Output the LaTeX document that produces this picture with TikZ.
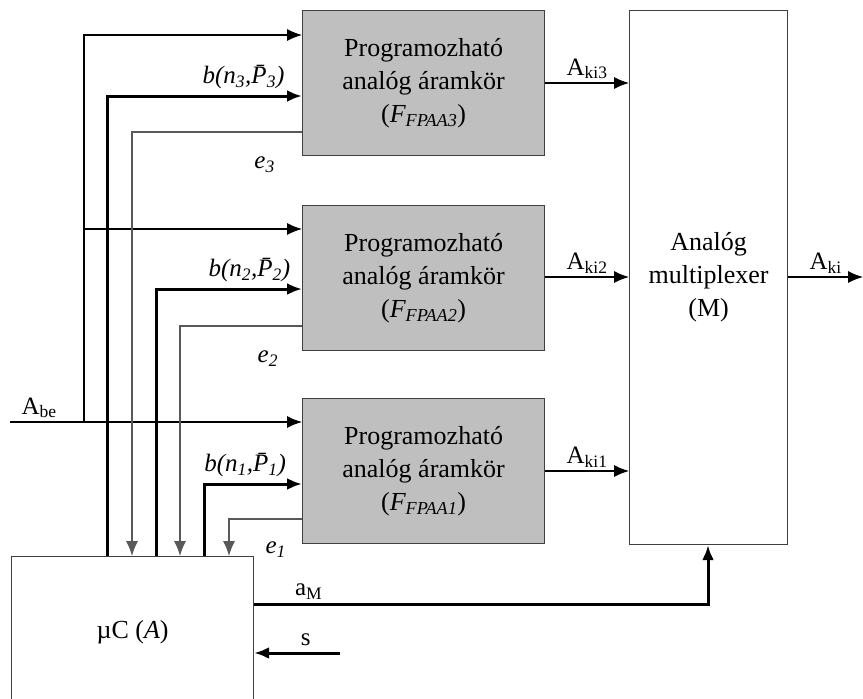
\documentclass[tikz,border=0pt]{standalone}
\usepackage{fontspec}
\setmainfont{Liberation Serif}
\usetikzlibrary{positioning, arrows.meta}

\begin{document}
\begin{tikzpicture}[
x=1pt, y=-1pt,
every node/.style={font=\fontsize{26}{33}\selectfont},
fpaabox/.style={rectangle,
  draw=black!75, line width=1.2pt,
  fill=gray!50,
  minimum width=242pt, minimum height=145pt,
  align=center, anchor=north west, inner sep=0pt
},
plainbox/.style={rectangle,
  draw=black!75, line width=1.2pt,
  fill=white,
  align=center, anchor=north west
},
lab/.style={font=\fontsize{25}{30}\selectfont, text=black},
sig/.style={line width=1.1pt, black},
fb/.style={line width=1.1pt, black!65},
bus/.style={line width=3pt, black},
>={Latex[length=15pt,width=12pt]}
]
\useasboundingbox (0,0) rectangle (863,699);
\clip (0,0) rectangle (863,699);

\node[fpaabox] (f3) at (302,10)
    {Programozható\\analóg áramkör\\(\textit{F\textsubscript{FPAA3}})};
\node[fpaabox] (f2) at (302,205)
    {Programozható\\analóg áramkör\\(\textit{F\textsubscript{FPAA2}})};
\node[fpaabox] (f1) at (302,398)
    {Programozható\\analóg áramkör\\(\textit{F\textsubscript{FPAA1}})};
\node[plainbox, minimum width=158pt, minimum height=534pt] (mux) at (629,10)
    {Analóg\\multiplexer\\(M)};
\node[plainbox, minimum width=242pt, minimum height=152pt] (uc) at (11,556)
    {µC (\textit{A})};

\coordinate (abe) at (10,422);
\coordinate (split) at (84,422);
\coordinate (aki) at (863,277);
\coordinate (sin) at (340,653);

% analog input
\draw[sig,->] (abe) -- (abe -| f1.west) node[lab, pos=0.1, above] {A\textsubscript{be}};
\draw[sig,->] (split) |- (f3.west |- 0,35);
\draw[sig,->] (split |- 0,229) -- (f2.west |- 0,229);

% programming buses
\draw[bus,->] (uc.north -| 107,0) |- (f3.west |- 0,96)
    node[lab, pos=0.85, above=2pt] {\textit{b(n\textsubscript{3},\=P\textsubscript{3})}};
\draw[bus,->] (uc.north -| 156,0) |- (f2.west |- 0,289)
    node[lab, pos=0.82, above=2pt] {\textit{b(n\textsubscript{2},\=P\textsubscript{2})}};
\draw[bus,->] (uc.north -| 204,0) |- (f1.west |- 0,484)
    node[lab, pos=0.71, above=2pt] {\textit{b(n\textsubscript{1},\=P\textsubscript{1})}};

% feedback
\draw[fb,->] (f3.west |- 0,132) -| (uc.north -| 132,0)
    node[lab, pos=0.11, below=21pt] {\textit{e\textsubscript{3}}};
\draw[fb,->] (f2.west |- 0,326) -| (uc.north -| 180,0)
    node[lab, pos=0.14, below=21pt] {\textit{e\textsubscript{2}}};
\draw[fb,->] (f1.west |- 0,519) -| (uc.north -| 229,0)
    node[lab, pos=0.18, below=19pt] {\textit{e\textsubscript{1}}};

% outputs
\draw[sig,->] (f3.east |- 0,83) -- (mux.west |- 0,83) node[lab, midway, above] {A\textsubscript{ki3}};
\draw[sig,->] (f2.east |- 0,277) -- (mux.west |- 0,277) node[lab, midway, above] {A\textsubscript{ki2}};
\draw[sig,->] (f1.east |- 0,471) -- (mux.west |- 0,471) node[lab, midway, above] {A\textsubscript{ki1}};
\draw[sig,->] (mux.east |- aki) -- (aki) node[lab, midway, above] {A\textsubscript{ki}};

% control
\draw[bus,->] (uc.east |- 0,604) -| (mux.south -| 708,0) node[lab, pos=0.06, above] {a\textsubscript{M}};
\draw[bus,->] (sin) -- (sin -| uc.east) node[lab, pos=0.4, above=2pt] {s};
\end{tikzpicture}
\end{document}
